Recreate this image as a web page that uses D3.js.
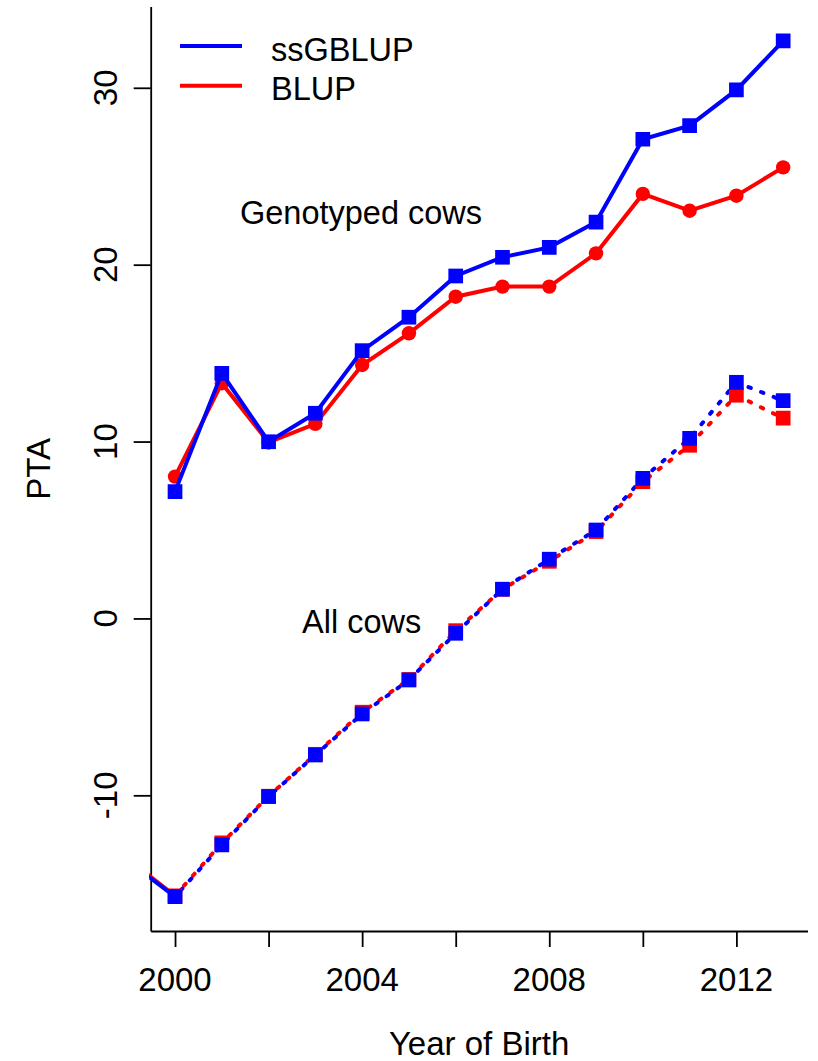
<!DOCTYPE html>
<html>
<head>
<meta charset="utf-8">
<script src="https://cdn.jsdelivr.net/npm/d3@7"></script>
<style>
  html, body { margin: 0; padding: 0; background: #fff; }
  svg text { font-family: "Liberation Sans", Arial, sans-serif; fill: #000; }
</style>
</head>
<body>
<svg id="chart" width="818" height="1061"></svg>
<script>
// Genotyped cows, mean PTA by year of birth
const genoYears = [2000, 2001, 2002, 2003, 2004, 2005, 2006, 2007, 2008, 2009, 2010, 2011, 2012, 2013];
const genoSsgblup = [7.17, 13.86, 9.99, 11.60, 15.14, 17.03, 19.36, 20.42, 20.98, 22.41, 27.09, 27.86, 29.88, 32.65];
const genoBlup    = [8.02, 13.30, 9.95, 11.00, 14.33, 16.12, 18.19, 18.76, 18.76, 20.64, 24.00, 23.05, 23.90, 25.50];

// All cows, mean PTA by year of birth (1999 sits just left of the plotted range)
const allYears = [1999, 2000, 2001, 2002, 2003, 2004, 2005, 2006, 2007, 2008, 2009, 2010, 2011, 2012, 2013];
const allSsgblup = [-13.73, -15.73, -12.80, -10.07, -7.72, -5.40, -3.48, -0.84, 1.65, 3.35, 5.00, 7.92, 10.18, 13.35, 12.31];
const allBlup    = [-13.62, -15.68, -12.69, -10.05, -7.68, -5.30, -3.45, -0.69, 1.65, 3.23, 4.91, 7.73, 9.79, 12.62, 11.32];

// Axis ticks and labels
const xTicks = [2000, 2002, 2004, 2006, 2008, 2010, 2012];
const xTickLabels = [2000, 2004, 2008, 2012];
const yTicks = [-10, 0, 10, 20, 30];
const yTickLabels = ["-10", "0", "10", "20", "30"];

const seriesNames = ["ssGBLUP", "BLUP"];
const seriesColors = ["#0000ff", "#ff0000"];

const svg = d3.select("#chart");
const plotLeft = 150.7, plotRight = 807.5, plotTop = 6.6, plotBottom = 931;

// Domains padded 4% beyond the data, as in base-graphics defaults
const x = d3.scaleLinear().domain([1999.48, 2013.52]).range([plotLeft, plotRight]);
const y = d3.scaleLinear().domain([-17.67, 34.59]).range([plotBottom, plotTop]);

svg.append("defs").append("clipPath").attr("id", "plotclip")
  .append("rect").attr("x", plotLeft - 1.5).attr("y", plotTop)
  .attr("width", plotRight - plotLeft + 1.5).attr("height", plotBottom - plotTop);

// Axes (left and bottom box lines with ticks)
const yAxis = d3.axisLeft(y).tickValues(yTicks).tickSize(17).tickSizeOuter(0).tickFormat("");
const xAxis = d3.axisBottom(x).tickValues(xTicks).tickSize(16).tickSizeOuter(0).tickFormat("");

const gy = svg.append("g").attr("transform", `translate(${plotLeft},0)`).call(yAxis);
const gx = svg.append("g").attr("transform", `translate(0,${plotBottom})`).call(xAxis);
[gy, gx].forEach(g => {
  g.selectAll("path.domain").attr("stroke", "#000").attr("stroke-width", 1.8);
  g.selectAll(".tick line").attr("stroke", "#000").attr("stroke-width", 1.8);
});

// Y tick labels, rotated
svg.append("g").selectAll("text").data(yTicks).join("text")
  .attr("transform", d => `translate(117,${y(d)}) rotate(-90)`)
  .attr("text-anchor", "middle")
  .attr("font-size", 33)
  .text((d, i) => yTickLabels[i]);

// X tick labels
svg.append("g").selectAll("text").data(xTickLabels).join("text")
  .attr("x", d => x(d)).attr("y", 990.5)
  .attr("text-anchor", "middle")
  .attr("font-size", 33)
  .text(d => d);

// Axis titles
svg.append("text").attr("x", (plotLeft + plotRight) / 2).attr("y", 1054.5)
  .attr("text-anchor", "middle").attr("font-size", 33).text("Year of Birth");
svg.append("text").attr("transform", `translate(50,${(plotTop + plotBottom) / 2}) rotate(-90)`)
  .attr("text-anchor", "middle").attr("font-size", 33).text("PTA");

const plot = svg.append("g").attr("clip-path", "url(#plotclip)");

const line = d3.line().x(d => x(d[0])).y(d => y(d[1]));
const pairs = (yrs, vals) => yrs.map((yr, i) => [yr, vals[i]]);

const sqSym = d3.symbol().type(d3.symbolSquare).size(14.7 * 14.7);

// All cows: BLUP first, ssGBLUP on top; the two dash patterns are out of step
[[allBlup, seriesColors[1], 0], [allSsgblup, seriesColors[0], 5]].forEach(([vals, col, offset]) => {
  const pts = pairs(allYears, vals);
  // lead-in segment from 1999 drawn solid
  plot.append("path").datum(pts.slice(0, 2)).attr("d", line)
    .attr("fill", "none").attr("stroke", col).attr("stroke-width", 4);
  plot.append("path").datum(pts.slice(1)).attr("d", line)
    .attr("fill", "none").attr("stroke", col).attr("stroke-width", 4)
    .attr("stroke-linecap", "round").attr("stroke-dasharray", "2.5,11")
    .attr("stroke-dashoffset", offset);
});
[[allBlup, seriesColors[1]], [allSsgblup, seriesColors[0]]].forEach(([vals, col]) => {
  plot.append("g").selectAll("path").data(pairs(allYears, vals)).join("path")
    .attr("d", sqSym)
    .attr("transform", d => `translate(${x(d[0])},${y(d[1])})`)
    .attr("fill", col);
});

// Genotyped cows: BLUP (circles) then ssGBLUP (squares)
plot.append("path").datum(pairs(genoYears, genoBlup)).attr("d", line)
  .attr("fill", "none").attr("stroke", seriesColors[1]).attr("stroke-width", 4);
plot.append("g").selectAll("circle").data(pairs(genoYears, genoBlup)).join("circle")
  .attr("cx", d => x(d[0])).attr("cy", d => y(d[1])).attr("r", 7.2)
  .attr("fill", seriesColors[1]);
plot.append("path").datum(pairs(genoYears, genoSsgblup)).attr("d", line)
  .attr("fill", "none").attr("stroke", seriesColors[0]).attr("stroke-width", 4);
plot.append("g").selectAll("path").data(pairs(genoYears, genoSsgblup)).join("path")
  .attr("d", sqSym)
  .attr("transform", d => `translate(${x(d[0])},${y(d[1])})`)
  .attr("fill", seriesColors[0]);

// Group labels
svg.append("text").attr("x", 240).attr("y", 224).attr("font-size", 32.5).text("Genotyped cows");
svg.append("text").attr("x", 302).attr("y", 632.5).attr("font-size", 32.5).text("All cows");

// Legend
const legend = svg.append("g");
seriesNames.forEach((name, i) => {
  const ly = 46 + i * 39.7;
  legend.append("line").attr("x1", 180).attr("x2", 242).attr("y1", ly).attr("y2", ly)
    .attr("stroke", seriesColors[i]).attr("stroke-width", 4);
  legend.append("text").attr("x", 271).attr("y", ly + 14.7).attr("font-size", 32.5).text(name);
});
</script>
</body>
</html>
